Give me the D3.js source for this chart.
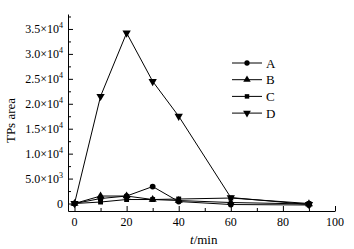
<!DOCTYPE html>
<html>
<head>
<meta charset="utf-8">
<script src="https://cdn.jsdelivr.net/npm/d3@7"></script>
<style>
  body { margin: 0; background: #fff; }
  svg text { font-family: "Liberation Serif", "DejaVu Serif", serif; fill: #000; }
</style>
</head>
<body>
<div id="chart"></div>
<script>
const times = [0, 10, 20, 30, 40, 60, 90];
const seriesA = [0, 1000, 1500, 3400, 400, -200, -300];
const seriesB = [0, 1500, 1500, 800, 600, 200, -100];
const seriesC = [0, 300, 800, 800, 900, 1100, 0];
const seriesD = [0, 21500, 34200, 24500, 17500, 1200, -200];
const names = ["A", "B", "C", "D"];
const xTicks = [0, 20, 40, 60, 80, 100];
const yTicks = [0, 5000, 10000, 15000, 20000, 25000, 30000, 35000];
const yTickLabels = ["0", "5.0", "1.0", "1.5", "2.0", "2.5", "3.0", "3.5"];
const yTickExps = ["", "3", "4", "4", "4", "4", "4", "4"];

const width = 354;
const height = 249;

const svg = d3.select("#chart")
  .append("svg")
  .attr("width", width)
  .attr("height", height);

const x = d3.scaleLinear().domain([-2.5, 100]).range([68, 335]);
const y = d3.scaleLinear().domain([-1500, 38000]).range([211, 14]);

// axes, ticks pointing inward
const xAxis = svg.append("g")
  .attr("transform", `translate(0,${y.range()[0]})`)
  .call(d3.axisBottom(x).tickValues(d3.range(0, 101, 10)).tickSize(0).tickFormat(""));
xAxis.select(".domain").attr("stroke", "#000");
xAxis.selectAll(".tick line")
  .attr("y2", d => d % 20 === 0 ? -5 : -3)
  .attr("stroke", "#000");

svg.append("g")
  .selectAll("text")
  .data(xTicks)
  .enter()
  .append("text")
  .attr("x", d => x(d))
  .attr("y", 226)
  .attr("text-anchor", "middle")
  .style("font-size", "12px")
  .text(d => d);

const yAxis = svg.append("g")
  .attr("transform", `translate(${x.range()[0]},0)`)
  .call(d3.axisLeft(y).tickValues(d3.range(0, 37501, 2500)).tickSize(0).tickFormat(""));
yAxis.select(".domain").attr("stroke", "#000");
yAxis.selectAll(".tick line")
  .attr("x2", d => d % 5000 === 0 ? 5 : 3)
  .attr("stroke", "#000");

const yLabels = svg.append("g")
  .selectAll("text")
  .data(yTicks)
  .enter()
  .append("text")
  .attr("x", 63)
  .attr("y", d => y(d) + 4)
  .attr("text-anchor", "end")
  .style("font-size", "12px");

yLabels.each(function(d, i) {
  const t = d3.select(this);
  if (i === 0) {
    t.text("0");
  } else {
    t.append("tspan").text(yTickLabels[i] + "\u00d710");
    t.append("tspan")
      .attr("dy", -5)
      .style("font-size", "8px")
      .text(yTickExps[i]);
  }
});

// axis titles
svg.append("text")
  .attr("transform", `translate(15,${(y.range()[0] + y.range()[1]) / 2 + 8}) rotate(-90)`)
  .attr("text-anchor", "middle")
  .style("font-size", "13px")
  .text("TPs area");

const xt = svg.append("text")
  .attr("x", x(50) - 1)
  .attr("y", 244)
  .attr("text-anchor", "middle")
  .style("font-size", "13px");
xt.append("tspan").style("font-style", "italic").text("t");
xt.append("tspan").text("/min");

// series
const data = [seriesA, seriesB, seriesC, seriesD];
const symbols = [d3.symbolCircle, d3.symbolTriangle, d3.symbolSquare, d3.symbolTriangle];
const rotations = [0, 0, 0, 180];
const sizes = [26, 28, 24, 30];

const line = d3.line()
  .x((d, i) => x(times[i]))
  .y(d => y(d));

data.forEach((vals, k) => {
  svg.append("path")
    .datum(vals)
    .attr("fill", "none")
    .attr("stroke", "#000")
    .attr("stroke-width", 1)
    .attr("d", line);

  svg.append("g")
    .selectAll("path")
    .data(vals)
    .enter()
    .append("path")
    .attr("d", d3.symbol().type(symbols[k]).size(sizes[k]))
    .attr("transform", (d, i) => `translate(${x(times[i])},${y(d)}) rotate(${rotations[k]})`)
    .attr("fill", "#000");
});

// legend
const legend = svg.append("g")
  .selectAll("g")
  .data(names)
  .enter()
  .append("g")
  .attr("transform", (d, i) => `translate(232,${63 + i * 16.7})`);

legend.append("line")
  .attr("x1", 0)
  .attr("x2", 30)
  .attr("stroke", "#000");

legend.append("path")
  .attr("d", (d, i) => d3.symbol().type(symbols[i]).size(sizes[i] - 4)())
  .attr("transform", (d, i) => `translate(15,0) rotate(${rotations[i]})`)
  .attr("fill", "#000");

legend.append("text")
  .attr("x", 34)
  .attr("y", 4.5)
  .style("font-size", "13px")
  .text(d => d);
</script>
</body>
</html>
